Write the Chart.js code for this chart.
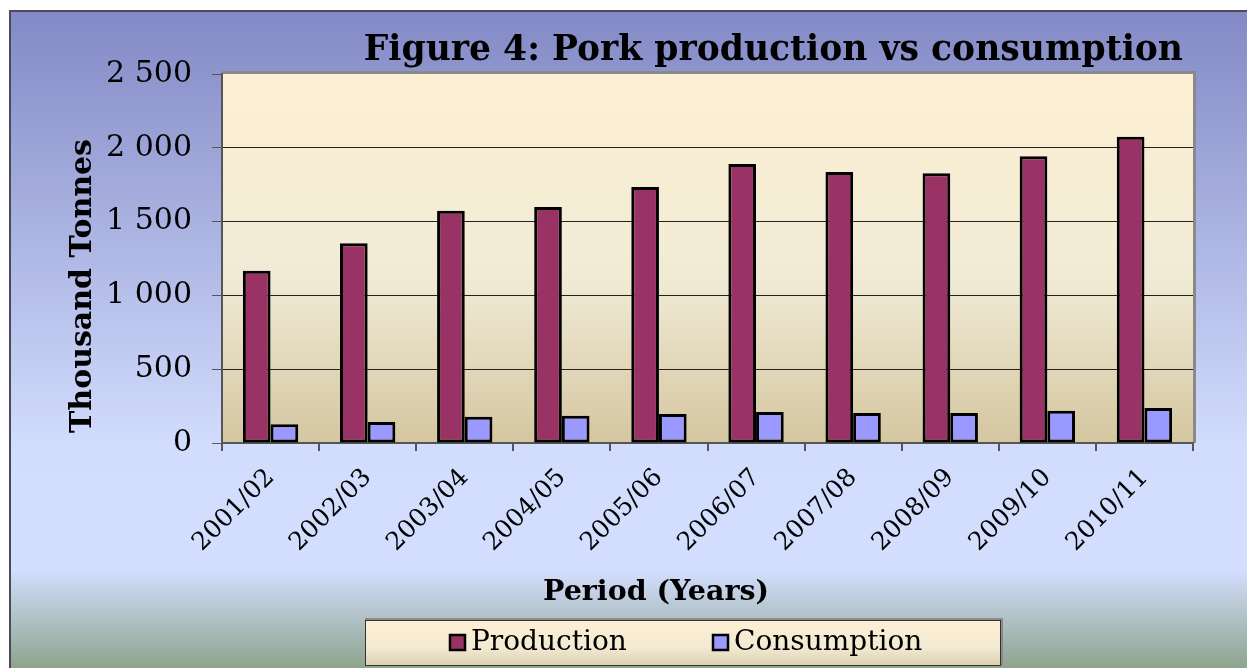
<!DOCTYPE html>
<html><head><meta charset="utf-8">
<script src="https://cdn.jsdelivr.net/npm/chart.js@4/dist/chart.umd.min.js"></script>
<style>html,body{margin:0;padding:0;background:#fff;overflow:hidden}canvas{display:block}</style>
</head><body>
<canvas id="c" width="1247" height="668"></canvas>
<script>
const categories = ['2001/02','2002/03','2003/04','2004/05','2005/06','2006/07','2007/08','2008/09','2009/10','2010/11'];
const production = [1167,1353,1574,1599,1734,1890,1836,1827,1942,2075];
const consumption = [127,142,178,185,196,210,203,203,219,237];
const yTickValues = [0,500,1000,1500,2000,2500];
const yTickLabels = ['0','500','1 000','1 500','2 000','2 500'];
const seriesNames = ['Production','Consumption'];
const chartTitle = 'Figure 4: Pork production vs consumption';
const xAxisTitle = 'Period (Years)';
const yAxisTitle = 'Thousand Tonnes';

const SERIF = '"DejaVu Serif", serif';

const decor = {
  id: 'decor',
  beforeDraw(chart) {
    const ctx = chart.ctx, a = chart.chartArea;
    const W = chart.width, H = chart.height;
    ctx.save();
    ctx.fillStyle = '#fff';
    ctx.fillRect(0, 0, W, H);
    const g = ctx.createLinearGradient(0, 11, 0, H);
    g.addColorStop(0, '#8389c5');
    g.addColorStop(0.66, '#d2dcfd');
    g.addColorStop(0.85, '#d4deff');
    g.addColorStop(1, '#8da48d');
    ctx.fillStyle = g;
    ctx.fillRect(10, 11, W - 10, H - 11);
    ctx.strokeStyle = '#4a4a5a';
    ctx.lineWidth = 2;
    ctx.beginPath();
    ctx.moveTo(10, H); ctx.lineTo(10, 11); ctx.lineTo(W, 11);
    ctx.stroke();
    ctx.fillStyle = '#8a8a8a';
    ctx.fillRect(a.left, a.top - 3, a.width + 3, a.height + 3);
    const pg = ctx.createLinearGradient(0, a.top, 0, a.bottom);
    pg.addColorStop(0, '#fdefd3');
    pg.addColorStop(0.55, '#f1ebd6');
    pg.addColorStop(1, '#d4c6a0');
    ctx.fillStyle = pg;
    ctx.fillRect(a.left, a.top, a.width, a.height);
    ctx.restore();
  },
  afterDraw(chart) {
    const ctx = chart.ctx;
    ctx.save();
    ctx.fillStyle = '#000';
    ctx.font = 'bold 34.6px ' + SERIF;
    ctx.textAlign = 'right';
    ctx.textBaseline = 'alphabetic';
    ctx.fillText(chartTitle, 1183, 60);
    ctx.font = 'bold 28.5px ' + SERIF;
    ctx.textAlign = 'center';
    ctx.fillText(xAxisTitle, 656, 600);
    ctx.save();
    ctx.translate(91, 286);
    ctx.rotate(-Math.PI / 2);
    ctx.font = 'bold 30px ' + SERIF;
    ctx.textAlign = 'center';
    ctx.fillText(yAxisTitle, 0, 0);
    ctx.restore();
    const lx = 365, ly = 620, lw = 636, lh = 46;
    ctx.fillStyle = '#8a8a8a';
    ctx.fillRect(lx, ly - 2, lw + 2, lh + 2);
    const lg = ctx.createLinearGradient(0, ly, 0, ly + lh);
    lg.addColorStop(0, '#fdefd3');
    lg.addColorStop(0.6, '#f3ead3');
    lg.addColorStop(1, '#dccfae');
    ctx.fillStyle = lg;
    ctx.fillRect(lx, ly, lw, lh);
    ctx.strokeStyle = '#333';
    ctx.lineWidth = 1;
    ctx.strokeRect(lx + 0.5, ly + 0.5, lw - 1, lh - 1);
    const ds = chart.data.datasets;
    const itemX = [449, 712];
    ctx.font = '28px ' + SERIF;
    ctx.textAlign = 'left';
    ctx.textBaseline = 'middle';
    ds.forEach((d, i) => {
      const x = itemX[i], y = 643;
      ctx.fillStyle = d.backgroundColor;
      ctx.fillRect(x + 1, y - 8, 15, 15);
      ctx.strokeStyle = '#000';
      ctx.lineWidth = 2.5;
      ctx.strokeRect(x + 1, y - 8, 15, 15);
      ctx.fillStyle = '#000';
      ctx.fillText(d.label, x + 22, y);
    });
    ctx.restore();
  }
};

new Chart(document.getElementById('c'), {
  type: 'bar',
  data: {
    labels: categories,
    datasets: [
      { label: seriesNames[0], data: production, backgroundColor: '#993366', borderColor: '#000', borderWidth: 3, borderSkipped: false },
      { label: seriesNames[1], data: consumption, backgroundColor: '#9999ff', borderColor: '#000', borderWidth: 3, borderSkipped: false }
    ]
  },
  options: {
    responsive: false,
    animation: false,
    devicePixelRatio: 1,
    layout: { padding: { top: 74, right: 54, bottom: 105, left: 0 } },
    datasets: { bar: { barPercentage: 1, categoryPercentage: 0.57 } },
    plugins: { legend: { display: false }, title: { display: false }, tooltip: { enabled: false } },
    scales: {
      x: {
        afterFit: s => { s.height = 120; },
        grid: { display: true, offset: true, drawOnChartArea: false, tickLength: 8, tickColor: '#555', lineWidth: 2 },
        border: { display: true, color: '#555', width: 2 },
        ticks: { color: '#000', font: { family: SERIF, size: 25 }, minRotation: 45, maxRotation: 45, padding: 12, autoSkip: false }
      },
      y: {
        min: 0, max: 2500,
        afterFit: s => { s.width = 222; },
        afterBuildTicks: s => { s.ticks = yTickValues.map(v => ({ value: v })); },
        grid: {
          color: c => (c.tick && c.tick.value === 2500) ? 'rgba(0,0,0,0)' : '#222',
          lineWidth: 1, tickLength: 10, tickColor: '#555'
        },
        border: { display: true, color: '#555', width: 2 },
        ticks: {
          color: '#000', font: { family: SERIF, size: 30 }, padding: 20,
          callback: v => yTickLabels[yTickValues.indexOf(v)]
        }
      }
    }
  },
  plugins: [decor]
});
</script>
</body></html>
